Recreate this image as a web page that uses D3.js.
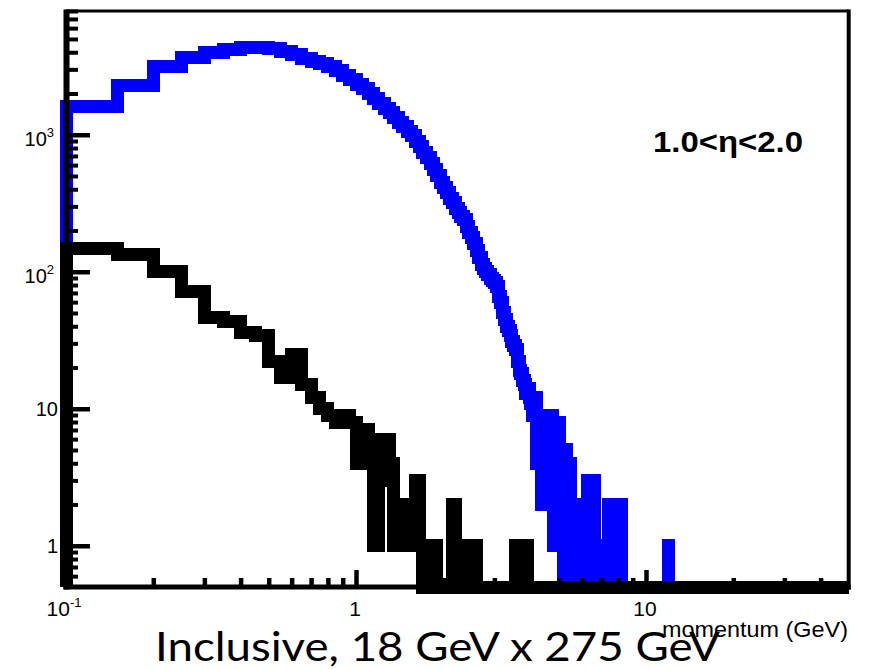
<!DOCTYPE html>
<html><head><meta charset="utf-8">
<script src="https://cdn.jsdelivr.net/npm/d3@7"></script>
<style>body{margin:0;background:#fff}svg{display:block}</style>
</head><body>
<svg id="c" width="869" height="669"></svg>
<script>
// ---- data (histograms, 0.05 GeV bins starting at 0.10 GeV; later bins empty) ----
const binStart = 0.1, binWidth = 0.05;
const blueCounts = [
1600,2290,3160,3650,3980,4200,4320,4330,4230,4060,
3830,3620,3430,3310,3130,2930,2710,2520,2330,2160,
2000,1830,1680,1560,1450,1340,1230,1150,1060,980,
890,820,740,680,620,560,500,450,410,380,
345,320,290,272,255,240,215,195,178,160,
143,128,112,106,100,95,90,86,83,78,
66,60,50,45,40,37,34,31,29,27,
22,19,18,16,15,13,14,12,11,9,
10,12,4,7,5,2,9,4,6,3,
5,2,9,3,1,3,2,4,8,1,
2,1,0,5,1,0,2,4,0,1,
0,1,2,0,0,1,0,1,0,1,
0,0,1,0,3,0,3,1,2,1,
3,0,1,0,0,1,0,0,1,0,
0,1,1,0,0,1,0,2,0,1,
2,0,1,0,2,1,0,0,2,0,
1,2];
const blueExtraBins = [[11.95, 1]];
const blackCounts = [
148,133,100,72,46,43,36,34,22,17,
25,15,12,10,9,8,9,8,4,7,
6,1,3,6,4,1,2,1,2,1,
3,1,0,1,0,1,0,0,0,0,
0,2,1,0,1,0,0,1,0,1,
0,0,0,0,0,0,0,0,0,0,
0,0,0,0,0,0,0,0,0,1,
0,1,0,1,0,1];
const blackExtraBins = [];
const xDomain = [0.1, 50];
const yDomain = [0.5, 8000];
const xMajor = [0.1, 1, 10];
const xMajorLabels = [["10","-1"],["1",""],["10",""]];
const xMinor = [0.2,0.3,0.4,0.5,0.6,0.7,0.8,0.9,2,3,4,5,6,7,8,9,20,30,40];
const yMajor = [1, 10, 100, 1000];
const yMajorLabels = [["1",""],["10",""],["10","2"],["10","3"]];
const yMinor = [0.6,0.7,0.8,0.9,2,3,4,5,6,7,8,9,20,30,40,50,60,70,80,90,
                200,300,400,500,600,700,800,900,2000,3000,4000,5000,6000,7000,8000];
const etaLabel = "1.0<\u03b7<2.0";
const xTitle = "momentum (GeV)";
const slideTitle = "Inclusive, 18 GeV x 275 GeV";

// ---- layout ----
const L = 66, R = 848.7, T = 11, B = 587;
const svg = d3.select("#c");
const x = d3.scaleLog().domain(xDomain).range([L, R]);
const y = d3.scaleLog().domain(yDomain).range([B, T]);

function buildBins(counts, extra) {
  const n = Math.round((xDomain[1] - binStart) / binWidth);
  const bins = [];
  for (let i = 0; i < n; i++) bins.push([binStart + i * binWidth, i < counts.length ? counts[i] : 0]);
  extra.forEach(([lo, c]) => { const i = Math.round((lo - binStart) / binWidth); bins[i][1] = c; });
  return bins;
}
function stepPath(counts, extra) {
  const bins = buildBins(counts, extra);
  const pts = [[xDomain[0], 0]];
  bins.forEach(([lo, c]) => { pts.push([lo, c]); pts.push([Math.min(lo + binWidth, xDomain[1]), c]); });
  pts.push([xDomain[1], 0]);
  return d3.line()
    .x(d => x(d[0]))
    .y(d => d[1] > 0 ? y(d[1]) : y(yDomain[0]))(pts);
}

const histStyle = (sel, color) => sel.attr("fill", "none").attr("stroke", color)
  .attr("stroke-width", 13).attr("stroke-linejoin", "miter").attr("stroke-miterlimit", 10)
  .attr("stroke-linecap", "butt").attr("shape-rendering", "crispEdges");

svg.append("path").attr("d", stepPath(blueCounts, blueExtraBins)).call(histStyle, "#0000ff");
svg.append("path").attr("d", stepPath(blackCounts, blackExtraBins)).call(histStyle, "#000000");

// ---- frame ----
svg.append("line").attr("x1", L).attr("x2", R).attr("y1", T).attr("y2", T).attr("stroke", "#000").attr("stroke-width", 3);
svg.append("line").attr("x1", R).attr("x2", R).attr("y1", T - 1.5).attr("y2", B + 2.5).attr("stroke", "#000").attr("stroke-width", 4);
svg.append("line").attr("x1", L + 0.5).attr("x2", L + 0.5).attr("y1", T - 1.5).attr("y2", B + 2.5).attr("stroke", "#000").attr("stroke-width", 6);
svg.append("line").attr("x1", L - 2.5).attr("x2", R + 2).attr("y1", B).attr("y2", B).attr("stroke", "#000").attr("stroke-width", 5);

// ---- axes (ticks inward) ----
function styleAxis(g, w) {
  g.select(".domain").remove();
  g.selectAll(".tick line").attr("stroke", "#000").attr("stroke-width", w);
  g.selectAll(".tick text").remove();
}
svg.append("g").attr("transform", `translate(0,${B})`)
  .call(d3.axisBottom(x).tickValues(xMinor).tickSizeInner(-9).tickSizeOuter(0).tickFormat(""))
  .call(styleAxis, 4.5);
svg.append("g").attr("transform", `translate(0,${B})`)
  .call(d3.axisBottom(x).tickValues(xMajor).tickSizeInner(-17).tickSizeOuter(0).tickFormat(""))
  .call(styleAxis, 4.5);
svg.append("g").attr("transform", `translate(${L},0)`)
  .call(d3.axisLeft(y).tickValues(yMinor).tickSizeInner(-12).tickSizeOuter(0).tickFormat(""))
  .call(styleAxis, 4);
svg.append("g").attr("transform", `translate(${L},0)`)
  .call(d3.axisLeft(y).tickValues(yMajor).tickSizeInner(-24).tickSizeOuter(0).tickFormat(""))
  .call(styleAxis, 4.5);

const font = "'Liberation Sans', Arial, Helvetica, sans-serif";
// y labels
yMajor.forEach((v, i) => {
  const [base, sup] = yMajorLabels[i];
  const t = svg.append("text").attr("font-family", font).attr("font-size", 20).attr("fill", "#000")
    .attr("text-anchor", "end");
  if (sup) {
    t.attr("x", 54).attr("y", y(v) + 11);
    t.append("tspan").text(base);
    t.append("tspan").attr("font-size", 13).attr("dy", -9).text(sup);
  } else {
    t.attr("x", 58).attr("y", y(v) + 7).text(base);
  }
});
// x labels
xMajor.forEach((v, i) => {
  const [base, sup] = xMajorLabels[i];
  const t = svg.append("text").attr("font-family", font).attr("font-size", 21).attr("fill", "#000")
    .attr("text-anchor", "middle");
  if (sup) {
    t.attr("x", x(v) - 2).attr("y", 616);
    t.append("tspan").text(base);
    t.append("tspan").attr("font-size", 13).attr("dy", -9).text(sup);
  } else {
    t.attr("x", x(v) - 1).attr("y", 616).text(base);
  }
});
// axis title
svg.append("text").attr("font-family", font).attr("font-size", 22).attr("fill", "#000")
  .attr("x", 662).attr("y", 637).attr("textLength", 186).attr("lengthAdjust", "spacingAndGlyphs")
  .text(xTitle);
// eta label
svg.append("text").attr("font-family", font).attr("font-size", 30).attr("font-weight", "bold").attr("fill", "#000")
  .attr("x", 653).attr("y", 152).attr("textLength", 150).attr("lengthAdjust", "spacingAndGlyphs")
  .text(etaLabel);
// slide caption
svg.append("text").attr("font-family", "Lato, 'Open Sans', sans-serif").attr("font-size", 41).attr("fill", "#000")
  .attr("x", 155).attr("y", 661).attr("textLength", 565).attr("lengthAdjust", "spacingAndGlyphs")
  .text(slideTitle);
</script>
</body></html>
